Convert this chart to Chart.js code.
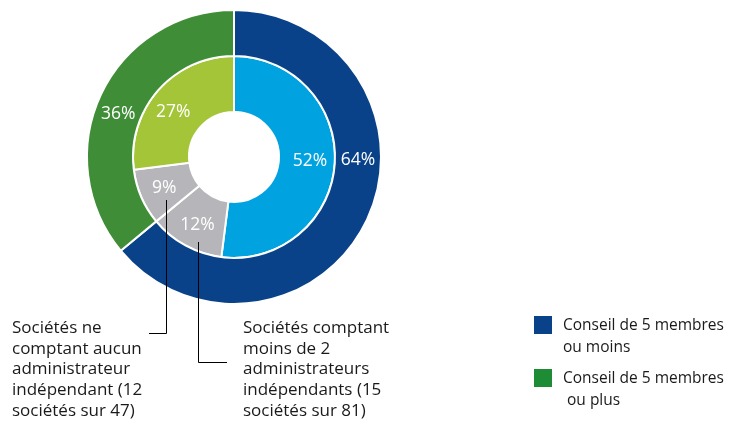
<!DOCTYPE html>
<html>
<head>
<meta charset="utf-8">
<script src="https://cdn.jsdelivr.net/npm/chart.js@4"></script>
<style>
  html, body { margin: 0; padding: 0; background: #fff; }
  canvas { display: block; }
</style>
</head>
<body>
<canvas id="chart" width="739" height="422"></canvas>
<script>
// données
const outerLabels = ['Conseil de 5 membres ou moins', 'Conseil de 5 membres ou plus'];
const outerValues = [64, 36];
const outerColors = ['#0a428a', '#3f8e37'];

const innerLabels = ['52%', '12%', '9%', '27%'];
const innerValues = [52, 12, 9, 27];
const innerColors = ['#00a3df', '#b6b6ba', '#b6b6ba', '#a3c537'];

const noteLeft = ['Sociétés ne', 'comptant aucun', 'administrateur', 'indépendant (12', 'sociétés sur 47)'];
const noteRight = ['Sociétés comptant', 'moins de 2', 'administrateurs', 'indépendants (15', 'sociétés sur 81)'];

const legendItems = [
    { color: '#0a428a', lines: ['Conseil de 5 membres', 'ou moins'] },
    { color: '#1e8c34', lines: ['Conseil de 5 membres', ' ou plus'] }
];

const FONT = '"Open Sans", "Noto Sans", sans-serif';

// étiquettes en pourcentage sur les arcs
const arcLabels = {
    id: 'arcLabels',
    afterDatasetsDraw(chart) {
        const ctx = chart.ctx;
        ctx.save();
        ctx.fillStyle = '#fff';
        ctx.font = '17.5px ' + FONT;
        ctx.textAlign = 'center';
        ctx.textBaseline = 'middle';
        chart.data.datasets.forEach((ds, di) => {
            chart.getDatasetMeta(di).data.forEach((arc, i) => {
                const p = arc.getProps(['x', 'y', 'startAngle', 'endAngle', 'innerRadius', 'outerRadius'], true);
                let a = (p.startAngle + p.endAngle) / 2;
                if (ds.labelAngle && ds.labelAngle[i] != null) a = ds.labelAngle[i] * Math.PI / 180 - Math.PI / 2;
                const r = (p.innerRadius + p.outerRadius) / 2 + (ds.labelShift || 0);
                ctx.fillText(ds.data[i] + '%', p.x + Math.cos(a) * r, p.y + Math.sin(a) * r + 1);
            });
        });
        ctx.restore();
    }
};

// annotations + légende
const notes = {
    id: 'notes',
    afterDraw(chart) {
        const ctx = chart.ctx;
        ctx.save();
        ctx.strokeStyle = '#000';
        ctx.lineWidth = 1;
        ctx.beginPath();
        ctx.moveTo(166.5, 200); ctx.lineTo(166.5, 333.5); ctx.lineTo(149, 333.5);
        ctx.moveTo(198.5, 242); ctx.lineTo(198.5, 362.5); ctx.lineTo(227, 362.5);
        ctx.stroke();

        ctx.fillStyle = '#1a1a1a';
        ctx.font = '17px ' + FONT;
        ctx.textBaseline = 'middle';
        ctx.textAlign = 'left';
        noteLeft.forEach((t, i) => ctx.fillText(t, 12, 328 + i * 20.8));
        noteRight.forEach((t, i) => ctx.fillText(t, 243, 328 + i * 20.8));

        ctx.font = '15.5px ' + FONT;
        legendItems.forEach((item, k) => {
            const y0 = 316 + k * 53;
            ctx.fillStyle = item.color;
            ctx.fillRect(534, y0, 18, 18);
            ctx.fillStyle = '#1a1a1a';
            item.lines.forEach((t, i) => ctx.fillText(t, 563, y0 + 10 + i * 21.5));
        });
        ctx.restore();
    }
};

new Chart(document.getElementById('chart'), {
    type: 'doughnut',
    data: {
        labels: outerLabels,
        datasets: [
            {
                data: outerValues,
                backgroundColor: outerColors,
                borderColor: '#fff',
                borderWidth: 2,
                weight: 46,
                labelAngle: [91, 291]
            },
            {
                data: innerValues,
                backgroundColor: innerColors,
                borderColor: '#fff',
                borderWidth: 2,
                weight: 56,
                labelShift: 3,
                labelAngle: [92, null, null, 307]
            }
        ]
    },
    options: {
        responsive: false,
        animation: false,
        cutout: '30.6%',
        layout: { padding: { left: 86, top: 9, right: 357, bottom: 117 } },
        plugins: {
            legend: { display: false },
            tooltip: { enabled: false }
        },
        events: []
    },
    plugins: [arcLabels, notes]
});
</script>
</body>
</html>
